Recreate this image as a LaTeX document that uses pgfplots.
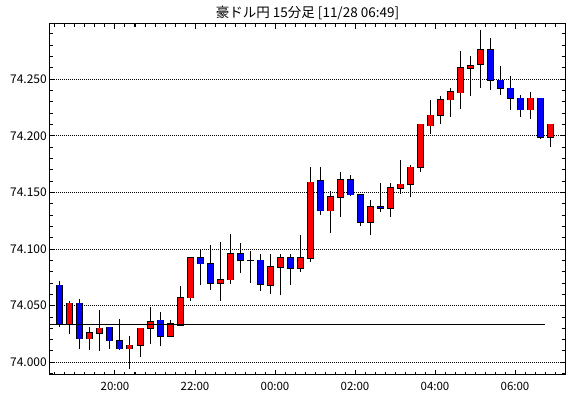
\documentclass[border=0pt]{standalone}
\usepackage{pgfplots}
\pgfplotsset{compat=1.18}
\usepackage{pgfplotstable}
\usepackage{fontspec}
\setmainfont{Noto Sans CJK JP}

\pgfplotstableread{
i open high low close
0 74.068 74.072 74.031 74.034
1 74.034 74.054 74.025 74.052
2 74.052 74.056 74.012 74.021
3 74.021 74.031 74.011 74.026
4 74.026 74.046 74.010 74.030
5 74.031 74.031 74.012 74.019
6 74.019 74.038 74.011 74.012
7 74.012 74.023 73.994 74.015
8 74.015 74.030 74.005 74.030
9 74.030 74.049 74.016 74.036
10 74.037 74.044 74.014 74.023
11 74.023 74.037 74.022 74.034
12 74.033 74.067 74.033 74.057
13 74.057 74.093 74.054 74.092
14 74.092 74.100 74.068 74.087
15 74.087 74.104 74.064 74.070
16 74.070 74.106 74.054 74.073
17 74.073 74.113 74.069 74.096
18 74.096 74.105 74.079 74.090
19 74.090 74.098 74.070 74.090
20 74.090 74.096 74.063 74.069
21 74.068 74.096 74.060 74.084
22 74.084 74.096 74.059 74.092
23 74.092 74.096 74.068 74.083
24 74.083 74.112 74.080 74.092
25 74.092 74.172 74.089 74.159
26 74.160 74.172 74.130 74.134
27 74.134 74.151 74.114 74.146
28 74.146 74.168 74.128 74.161
29 74.161 74.165 74.147 74.148
30 74.148 74.149 74.120 74.124
31 74.124 74.143 74.112 74.137
32 74.137 74.158 74.133 74.136
33 74.136 74.158 74.128 74.154
34 74.154 74.179 74.149 74.157
35 74.157 74.174 74.146 74.172
36 74.172 74.210 74.168 74.210
37 74.209 74.232 74.202 74.218
38 74.218 74.235 74.210 74.232
39 74.232 74.242 74.217 74.239
40 74.238 74.275 74.224 74.260
41 74.260 74.270 74.235 74.262
42 74.263 74.293 74.242 74.276
43 74.276 74.286 74.240 74.249
44 74.249 74.262 74.236 74.242
45 74.242 74.253 74.223 74.233
46 74.233 74.236 74.217 74.223
47 74.223 74.239 74.215 74.233
48 74.233 74.233 74.197 74.199
49 74.199 74.210 74.190 74.210
}\ohlc

\begin{document}
\begin{tikzpicture}
\begin{axis}[
  scale only axis, width=515pt, height=351pt,
  xmin=-1, xmax=50.5, ymin=73.9888, ymax=74.2987,
  xtick={5.5,13.5,21.5,29.5,37.5,45.5},
  xticklabels={20:00,22:00,00:00,02:00,04:00,06:00},
  minor xtick={-0.5,0.5,...,49.5},
  ytick={74.00,74.05,74.10,74.15,74.20,74.25},
  minor ytick={73.99,74.00,74.01,74.02,74.03,74.04,74.05,74.06,74.07,74.08,74.09,74.10,74.11,74.12,74.13,74.14,74.15,74.16,74.17,74.18,74.19,74.20,74.21,74.22,74.23,74.24,74.25,74.26,74.27,74.28,74.29},
  scaled y ticks=false,
  /pgf/number format/fixed, /pgf/number format/fixed zerofill,
  /pgf/number format/precision=3, /pgf/number format/1000 sep={},
  /pgf/number format/assume math mode=true,
  tick align=inside,
  major tick length=5pt, minor tick length=3pt,
  tick style={black, line width=1pt},
  axis line style={black, line width=1pt},
  ymajorgrids,
  major grid style={black, line width=1pt, dash pattern=on 1pt off 1pt},
  xticklabel style={inner sep=0pt, yshift=-7pt, font=\fontsize{11.5}{13}\selectfont},
  yticklabel style={inner sep=0pt, xshift=-3pt, font=\fontsize{12}{14}\selectfont},
  title={豪ドル円 15分足 [11/28 06:49]},
  title style={at={(0.5,1)}, anchor=center, yshift=5pt, inner sep=0pt, font=\fontsize{13.5}{15}\selectfont},
]
% wicks
\addplot[black, line width=1pt, quiver={u=0, v=\thisrow{high}-\thisrow{low}}]
  table[x=i, y=low] {\ohlc};
% body outlines
\addplot[black, line width=7pt, quiver={u=0, v={abs(\thisrow{close}-\thisrow{open})+0.0012}}]
  table[x=i, y expr={min(\thisrow{open},\thisrow{close})-0.0006}] {\ohlc};
% up bodies
\addplot[red, line width=5pt, quiver={u=0, v=\thisrow{close}-\thisrow{open}},
  restrict expr to domain={\thisrow{close}-\thisrow{open}}{0:1}, unbounded coords=discard]
  table[x=i, y=open] {\ohlc};
% down bodies
\addplot[blue, line width=5pt, quiver={u=0, v=\thisrow{close}-\thisrow{open}},
  restrict expr to domain={\thisrow{close}-\thisrow{open}}{-1:-0.0000001}, unbounded coords=discard]
  table[x=i, y=open] {\ohlc};
% reference line
\addplot[black, line width=1pt] coordinates {(-1,74.033) (48.5,74.033)};
\end{axis}
\pgfresetboundingbox
\path[use as bounding box] ([shift={(-50pt,-23pt)}]current axis.south west) rectangle ([shift={(5pt,24pt)}]current axis.north east);
\end{tikzpicture}
\end{document}
